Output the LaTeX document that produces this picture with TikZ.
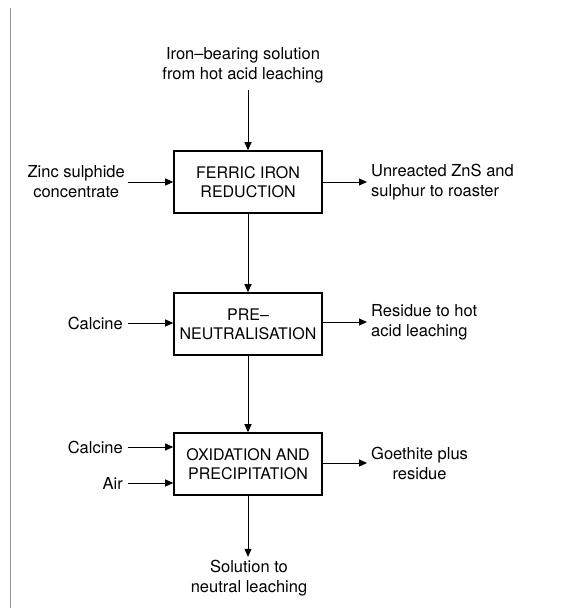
\documentclass[tikz,border=0pt]{standalone}
\usepackage{fontspec}
\setmainfont{TeX Gyre Heros}
\usetikzlibrary{arrows.meta}

\begin{document}
\begin{tikzpicture}[x=1pt,y=-1pt,
  proc/.style={draw,line width=1.6pt,minimum width=148pt,minimum height=62pt,
    align=center,inner sep=0pt,font=\fontsize{16}{19}\selectfont},
  lbl/.style={inner sep=0pt,font=\fontsize{16.5}{20}\selectfont},
  flow/.style={line width=1pt,-{Triangle[length=8pt,width=7pt]}}]
\useasboundingbox (0,0) rectangle (565,608);
\draw[black!40,line width=1pt] (10,8) -- (10,608);

% process boxes
\node[proc] (ferric) at (248,182) {FERRIC IRON\\REDUCTION};
\node[proc] (preneut) at (248,324) {PRE--\\NEUTRALISATION};
\node[proc] (oxid) at (248,464) {OXIDATION AND\\PRECIPITATION};

% feeds and products
\node[lbl,align=center] (ironsol) at (243,65) {Iron--bearing solution\\from hot acid leaching};
\node[lbl,align=center,anchor=east] (zinc) at (125,182) {Zinc sulphide\\concentrate};
\node[lbl,align=left,anchor=west] (unreact) at (371,182) {Unreacted ZnS and\\sulphur to roaster};
\node[lbl,anchor=east] (calcinea) at (123,323) {Calcine};
\node[lbl,align=left,anchor=west] (residue) at (371,322) {Residue to hot\\acid leaching};
\node[lbl,anchor=east] (calcineb) at (123,447) {Calcine};
\node[lbl,anchor=east] (air) at (123,483) {Air};
\node[lbl,align=center,anchor=west] (goethite) at (371,463) {Goethite plus\\residue};
\node[lbl,align=center] (solution) at (249,578) {Solution to\\neutral leaching};

\draw[flow] ([yshift=-7pt]ironsol.south -| ferric.north) -- (ferric.north);
\draw[flow] ([xshift=3pt]zinc.east) -- (ferric.west);
\draw[flow] (ferric.east) -- ([xshift=-4pt]unreact.west);
\draw[flow] (ferric.south) -- (preneut.north);
\draw[flow] ([xshift=5pt]calcinea.east) -- (calcinea.east -| preneut.west);
\draw[flow] (preneut.east |- residue.west) -- ([xshift=-4pt]residue.west);
\draw[flow] (preneut.south) -- (oxid.north);
\draw[flow] ([xshift=5pt]calcineb.east) -- (calcineb.east -| oxid.west);
\draw[flow] ([xshift=5pt]air.east) -- (air.east -| oxid.west);
\draw[flow] (oxid.east |- goethite.west) -- ([xshift=-4pt]goethite.west);
\draw[flow] (oxid.south) -- ([yshift=3pt]solution.north -| oxid.south);
\end{tikzpicture}
\end{document}
